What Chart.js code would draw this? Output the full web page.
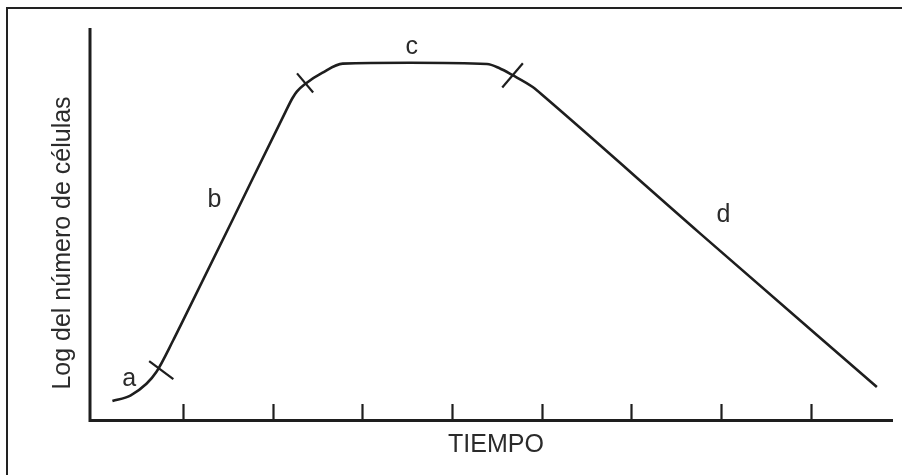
<!DOCTYPE html>
<html>
<head>
<meta charset="utf-8">
<script src="https://cdn.jsdelivr.net/npm/chart.js@4.4.1/dist/chart.umd.min.js"></script>
<style>
  html, body { margin: 0; padding: 0; background: #ffffff; }
  #wrap { width: 902px; height: 475px; }
</style>
</head>
<body>
<div id="wrap"><canvas id="c" width="902" height="475"></canvas></div>
<script>
// ---- data (time in arbitrary units, log cell number in arbitrary units) ----
const timeTicks = [1, 2, 3, 4, 5, 6, 7, 8];
const curveX = [0.21, 0.41, 0.59, 0.70, 0.89, 0.97, 1.55, 2.14, 2.22, 2.27, 2.36, 2.55, 2.78, 3.53, 4.39, 4.53, 4.67, 4.90, 5.04, 6.76, 8.74];
const curveY = [0.46, 0.60, 0.90, 1.20, 2.02, 2.39, 5.09, 7.85, 8.21, 8.38, 8.57, 8.85, 9.09, 9.11, 9.08, 8.97, 8.80, 8.49, 8.22, 4.76, 0.82];
// phase boundary marks (short strokes crossing the curve)
const markX = [[0.62, 0.89], [2.27, 2.45], [4.56, 4.79]];
const markY = [[1.48, 1.02], [8.84, 8.35], [8.48, 9.10]];
// phase labels
const phaseLabels = ['a', 'b', 'c', 'd'];
const phaseLabelX = [0.32, 1.27, 3.48, 6.95];
const phaseLabelY = [0.84, 5.42, 9.34, 5.04];
const xTitle = 'TIEMPO';
const yTitle = 'Log del número de células';
const xMin = -0.04, xMax = 8.92, yMin = 0, yMax = 10;

const INK = '#1e1e1e';
const TEXT = '#2b2b2b';
const FONT = '25px "Liberation Sans", Arial, sans-serif';

const datasets = [{
  data: curveX.map((x, i) => ({ x: x, y: curveY[i] })),
  borderColor: INK,
  borderWidth: 2.6,
  pointRadius: 0,
  showLine: true,
  fill: false,
  cubicInterpolationMode: 'monotone'
}];
markX.forEach((mx, k) => {
  datasets.push({
    data: mx.map((x, i) => ({ x: x, y: markY[k][i] })),
    borderColor: INK,
    borderWidth: 2.2,
    pointRadius: 0,
    showLine: true,
    fill: false,
    tension: 0
  });
});

const decor = {
  id: 'decor',
  afterDraw(chart) {
    const ctx = chart.ctx;
    const xs = chart.scales.x, ys = chart.scales.y;
    const x0 = xs.getPixelForValue(xMin), x1 = xs.getPixelForValue(xMax);
    const y0 = ys.getPixelForValue(yMin), y1 = ys.getPixelForValue(yMax);
    ctx.save();
    // outer frame (top and left edges visible)
    ctx.strokeStyle = '#222';
    ctx.lineWidth = 2;
    ctx.beginPath();
    ctx.moveTo(7, 480); ctx.lineTo(7, 8); ctx.lineTo(905, 8);
    ctx.stroke();
    // axes
    ctx.strokeStyle = INK;
    ctx.lineWidth = 3;
    ctx.lineCap = 'butt';
    ctx.beginPath();
    ctx.moveTo(x0, y1); ctx.lineTo(x0, y0 + 1.5); ctx.lineTo(x1, y0 + 1.5);
    ctx.stroke();
    // inward tick marks
    ctx.lineWidth = 2.2;
    timeTicks.forEach(t => {
      const px = Math.round(xs.getPixelForValue(t)) + 0.5;
      ctx.beginPath();
      ctx.moveTo(px, y0);
      ctx.lineTo(px, y0 - 15);
      ctx.stroke();
    });
    // phase labels
    ctx.fillStyle = TEXT;
    ctx.font = FONT;
    ctx.textAlign = 'left';
    ctx.textBaseline = 'alphabetic';
    phaseLabels.forEach((s, i) => {
      ctx.fillText(s, xs.getPixelForValue(phaseLabelX[i]), ys.getPixelForValue(phaseLabelY[i]));
    });
    // axis titles
    ctx.textAlign = 'center';
    ctx.fillText(xTitle, 496, 452);
    ctx.translate(70, 243);
    ctx.rotate(-Math.PI / 2);
    ctx.fillText(yTitle, 0, 0);
    ctx.restore();
  }
};

new Chart(document.getElementById('c'), {
  type: 'scatter',
  data: { datasets: datasets },
  options: {
    responsive: false,
    devicePixelRatio: 1,
    animation: false,
    layout: { padding: { left: 90, right: 9, top: 28, bottom: 56 } },
    plugins: { legend: { display: false }, tooltip: { enabled: false } },
    scales: {
      x: { type: 'linear', display: false, min: xMin, max: xMax },
      y: { type: 'linear', display: false, min: yMin, max: yMax }
    }
  },
  plugins: [decor]
});
</script>
</body>
</html>
